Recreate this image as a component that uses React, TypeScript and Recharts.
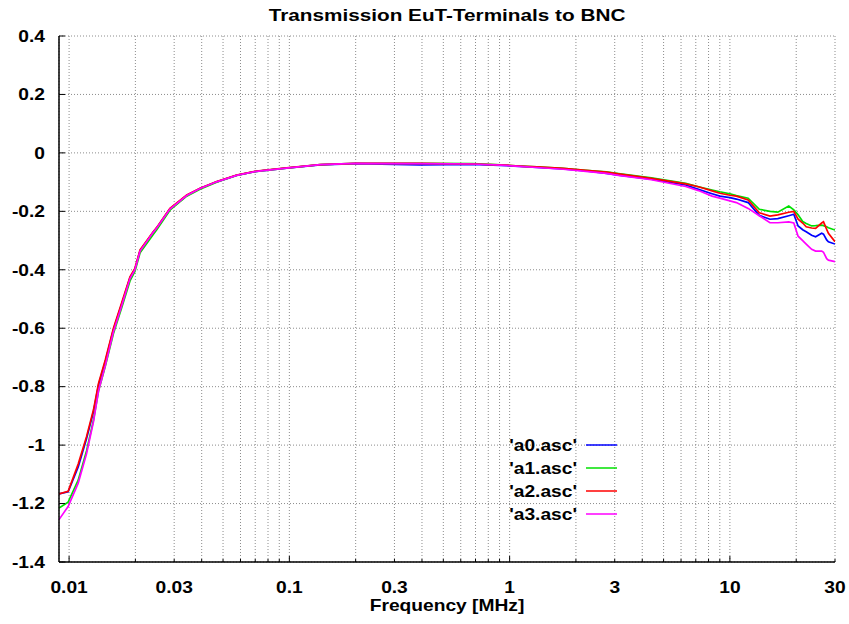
import React from "react";
import { LineChart, Line, XAxis, YAxis, CartesianGrid } from "recharts";

const freq = [0.009, 0.0099, 0.011, 0.012, 0.0129, 0.0136, 0.0146, 0.0159, 0.0173, 0.0189, 0.0199, 0.021, 0.0241, 0.025, 0.0287, 0.0342, 0.0393, 0.0468, 0.0576, 0.071, 0.097, 0.138, 0.2, 0.39, 0.68, 0.97, 1.11, 1.33, 1.75, 2.22, 2.75, 3.12, 4.4, 6.3, 7.2, 8.3, 9.0, 10.0, 10.7, 12.1, 13.6, 15.2, 16.5, 18.5, 19.5, 20.4, 21.4, 22.2, 23.5, 24.5, 26.1, 26.6, 27.5, 28.0, 30];

const a0 = [-1.167, -1.16, -1.075, -0.978, -0.886, -0.795, -0.714, -0.604, -0.52, -0.428, -0.398, -0.335, -0.272, -0.257, -0.192, -0.146, -0.122, -0.099, -0.077, -0.063, -0.052, -0.041, -0.037, -0.041, -0.039, -0.044, -0.046, -0.05, -0.055, -0.062, -0.07, -0.076, -0.09, -0.11, -0.125, -0.14, -0.148, -0.153, -0.158, -0.17, -0.214, -0.227, -0.225, -0.215, -0.21, -0.25, -0.263, -0.27, -0.282, -0.287, -0.275, -0.278, -0.298, -0.304, -0.312];
const a1 = [-1.215, -1.195, -1.12, -1.02, -0.915, -0.815, -0.73, -0.618, -0.532, -0.438, -0.406, -0.342, -0.279, -0.263, -0.196, -0.148, -0.124, -0.1, -0.077, -0.063, -0.052, -0.04, -0.036, -0.036, -0.037, -0.042, -0.045, -0.048, -0.053, -0.06, -0.065, -0.071, -0.085, -0.104, -0.116, -0.127, -0.133, -0.14, -0.146, -0.155, -0.193, -0.2, -0.203, -0.182, -0.195, -0.212, -0.235, -0.242, -0.25, -0.249, -0.247, -0.249, -0.253, -0.256, -0.264];
const a2 = [-1.167, -1.158, -1.065, -0.971, -0.88, -0.789, -0.709, -0.6, -0.515, -0.424, -0.395, -0.332, -0.27, -0.255, -0.19, -0.144, -0.121, -0.098, -0.076, -0.062, -0.051, -0.04, -0.036, -0.036, -0.038, -0.042, -0.045, -0.048, -0.053, -0.06, -0.066, -0.072, -0.087, -0.106, -0.116, -0.13, -0.138, -0.145, -0.148, -0.161, -0.205, -0.216, -0.212, -0.203, -0.2, -0.227, -0.24, -0.253, -0.257, -0.258, -0.24, -0.236, -0.262, -0.275, -0.304];
const a3 = [-1.255, -1.21, -1.13, -1.03, -0.92, -0.815, -0.728, -0.612, -0.525, -0.43, -0.4, -0.336, -0.272, -0.257, -0.192, -0.146, -0.122, -0.099, -0.077, -0.063, -0.052, -0.04, -0.036, -0.037, -0.038, -0.043, -0.046, -0.05, -0.056, -0.063, -0.07, -0.077, -0.092, -0.115, -0.129, -0.148, -0.155, -0.164, -0.17, -0.19, -0.215, -0.239, -0.239, -0.236, -0.24, -0.285, -0.3, -0.312, -0.33, -0.336, -0.336, -0.34, -0.362, -0.367, -0.372];

const seriesNames = ["'a0.asc'", "'a1.asc'", "'a2.asc'", "'a3.asc'"];
const seriesKeys = ["a0", "a1", "a2", "a3"];
const seriesColors = ["#0000ff", "#00e000", "#ff0000", "#ff00ff"];

const xTicks = [0.01, 0.02, 0.03, 0.04, 0.05, 0.06, 0.07, 0.08, 0.09, 0.1, 0.2, 0.3, 0.4, 0.5, 0.6, 0.7, 0.8, 0.9, 1, 2, 3, 4, 5, 6, 7, 8, 9, 10, 20, 30];
const xMajor = [0.01, 0.1, 1, 10];
const xLabels = [0.01, 0.03, 0.1, 0.3, 1, 3, 10, 30];
const yTicks = [-1.4, -1.2, -1, -0.8, -0.6, -0.4, -0.2, 0, 0.2, 0.4];

const title = "Transmission EuT-Terminals to BNC";
const xTitle = "Frequency [MHz]";

const data = freq.map((f, i) => ({ f, a0: a0[i], a1: a1[i], a2: a2[i], a3: a3[i] }));

const FONT = "'Liberation Sans', Arial, sans-serif";
const SX = 1.2;

const fmtY = (v: number) => String(Math.round(v * 10) / 10);

const isIn = (arr: number[], v: number) => arr.some((a) => Math.abs(a - v) < 1e-9);

const BottomTick = (props: any) => {
  const { x, y, payload } = props;
  const v = payload.value;
  const len = isIn(xMajor, v) ? 6 : 3;
  return (
    <g>
      <line x1={x} y1={y} x2={x} y2={y - len} stroke="#000" strokeWidth={1} />
      {isIn(xLabels, v) && (
        <text
          transform={`translate(${x},${y + 31}) scale(${SX},1)`}
          textAnchor="middle"
          fontFamily={FONT}
          fontWeight="bold"
          fontSize={16}
          fill="#000"
        >
          {String(v)}
        </text>
      )}
    </g>
  );
};

const TopTick = (props: any) => {
  const { x, y, payload } = props;
  const v = payload.value;
  const len = isIn(xMajor, v) ? 6 : 3;
  return <line x1={x} y1={y} x2={x} y2={y + len} stroke="#000" strokeWidth={1} />;
};

const LeftTick = (props: any) => {
  const { x, y, payload } = props;
  return (
    <g>
      <line x1={x} y1={y} x2={x + 6} y2={y} stroke="#000" strokeWidth={1} />
      <text
        transform={`translate(${x - 14},${y}) scale(${SX},1)`}
        textAnchor="end"
        dy="0.36em"
        fontFamily={FONT}
        fontWeight="bold"
        fontSize={16}
        fill="#000"
      >
        {fmtY(payload.value)}
      </text>
    </g>
  );
};

const RightTick = (props: any) => {
  const { x, y } = props;
  return <line x1={x} y1={y} x2={x - 6} y2={y} stroke="#000" strokeWidth={1} />;
};

export default function App() {
  return (
    <div style={{ position: "absolute", left: 0, top: 0, width: 849, height: 624, background: "#fff" }}>
      <LineChart width={849} height={624} data={data} margin={{ top: 36, right: 14, bottom: 0, left: 0 }}>
        <CartesianGrid stroke="#8c8c8c" strokeDasharray="1 2" strokeWidth={1} />
        <XAxis
          dataKey="f"
          type="number"
          scale="log"
          domain={[0.009, 30]}
          allowDataOverflow
          ticks={xTicks}
          interval={0}
          tick={<BottomTick />}
          tickLine={false}
          tickSize={0}
          tickMargin={0}
          height={62}
          axisLine={{ stroke: "#000", strokeWidth: 1.5 }}
        />
        <XAxis
          xAxisId="top"
          orientation="top"
          dataKey="f"
          type="number"
          scale="log"
          domain={[0.009, 30]}
          allowDataOverflow
          ticks={xTicks}
          interval={0}
          tick={<TopTick />}
          tickLine={false}
          tickSize={0}
          tickMargin={0}
          height={0}
          axisLine={{ stroke: "#000", strokeWidth: 1.5 }}
        />
        <YAxis
          type="number"
          domain={[-1.4, 0.4]}
          ticks={yTicks}
          interval={0}
          tick={<LeftTick />}
          tickLine={false}
          tickSize={0}
          tickMargin={0}
          width={59}
          axisLine={{ stroke: "#000", strokeWidth: 1.5 }}
        />
        <YAxis
          yAxisId="right"
          orientation="right"
          type="number"
          domain={[-1.4, 0.4]}
          ticks={yTicks}
          interval={0}
          tick={<RightTick />}
          tickLine={false}
          tickSize={0}
          tickMargin={0}
          width={0}
          axisLine={{ stroke: "#000", strokeWidth: 1.5 }}
        />
        {seriesKeys.map((k, i) => (
          <Line
            key={k}
            dataKey={k}
            name={seriesNames[i]}
            stroke={seriesColors[i]}
            strokeWidth={1.7}
            dot={false}
            type="linear"
            isAnimationActive={false}
          />
        ))}
      </LineChart>
      <svg width={849} height={624} style={{ position: "absolute", left: 0, top: 0, pointerEvents: "none" }}>
        <text
          transform={`translate(447,20.5) scale(1.22,1)`}
          textAnchor="middle"
          fontFamily={FONT}
          fontWeight="bold"
          fontSize={17}
          fill="#000"
        >
          {title}
        </text>
        <text
          transform={`translate(447,611) scale(${SX},1)`}
          textAnchor="middle"
          fontFamily={FONT}
          fontWeight="bold"
          fontSize={16}
          fill="#000"
        >
          {xTitle}
        </text>
        {seriesNames.map((n, i) => (
          <g key={n}>
            <text
              transform={`translate(577,${445 + i * 23}) scale(${SX},1)`}
              textAnchor="end"
              dy="0.36em"
              fontFamily={FONT}
              fontWeight="bold"
              fontSize={16}
              fill="#000"
            >
              {n}
            </text>
            <line x1={586} x2={617} y1={445 + i * 23} y2={445 + i * 23} stroke={seriesColors[i]} strokeWidth={1.5} />
          </g>
        ))}
      </svg>
    </div>
  );
}
